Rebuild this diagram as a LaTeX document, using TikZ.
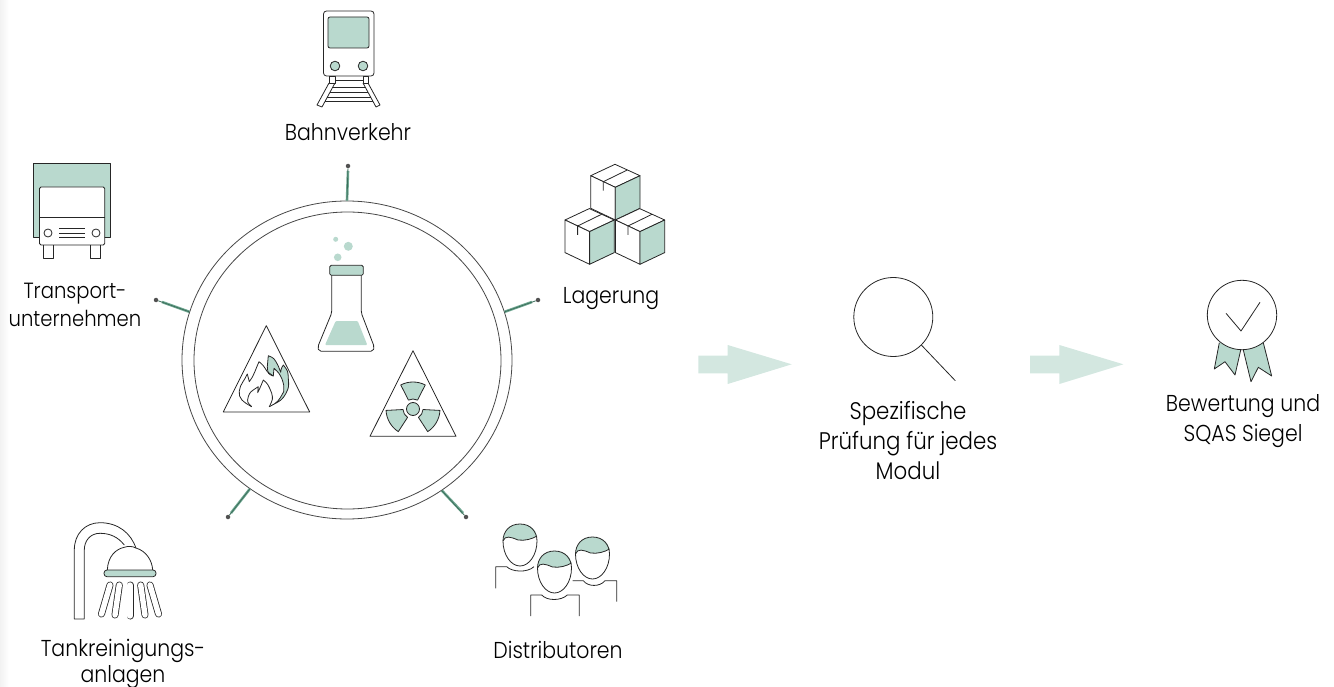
\documentclass[tikz,border=0pt]{standalone}
\usepackage{fontspec}
\setmainfont[FakeStretch=0.89]{Poppins Light}
\usepackage{xcolor}
\usetikzlibrary{shapes.geometric,positioning}
\definecolor{mint}{HTML}{B9D9CE}
\definecolor{arrowmint}{HTML}{D3E7E0}
\definecolor{spokegreen}{HTML}{6FA892}
\definecolor{spokedark}{HTML}{3C6E5B}
\definecolor{ink}{HTML}{262626}
\tikzset{
  icon/.style={draw=ink, line width=0.8pt, line join=round},
  iconfill/.style={icon, fill=mint},
  iconwhite/.style={icon, fill=white},
  labeltext/.style={font=\fontsize{23}{30}\selectfont, text=black, align=center, inner sep=0pt},
  ringline/.style={draw=ink!85, line width=0.8pt, shape=ellipse, inner sep=0pt},
  spokedot/.style={circle, fill=ink!80, inner sep=0pt, minimum size=4.5pt},
  spokewide/.style={draw=spokegreen, line width=2.6pt},
  spokethin/.style={draw=spokedark, line width=0.8pt},
  jetline/.style={draw=ink, line width=7pt, line cap=round},
  jetinner/.style={draw=white, line width=5.4pt, line cap=round},
  bigarrow/.style={fill=arrowmint, draw=none}
}
\begin{document}
\begin{tikzpicture}[x=1pt,y=-1pt]
  \useasboundingbox (0,0) rectangle (1334,687);
  \shade[left color=black!5, right color=white] (0,0) rectangle (9,687);

  % ring in the middle
  \node (ring_outer) at (347,360) [ringline, minimum width=330pt, minimum height=318pt]{};
  \node (ring_inner) at (347.5,360.5) [ringline, minimum width=307pt, minimum height=297pt]{};

  % spokes
  \node (dot_top) at (348,166) [spokedot]{};
  \node (dot_left) at (156,300) [spokedot]{};
  \node (dot_right) at (538,300) [spokedot]{};
  \node (dot_lowleft) at (228,517) [spokedot]{};
  \node (dot_lowright) at (466,517) [spokedot]{};
  \coordinate (stub_top) at (348,171);
  \coordinate (stub_left) at (162,302);
  \coordinate (stub_right) at (532,302);
  \coordinate (stub_lowleft) at (231,513);
  \coordinate (stub_lowright) at (463,513);
  \foreach \ang/\spoke in {90/top, 163/left, 17.2/right, 233.3/lowleft, 306.7/lowright}{
    \draw[spokewide] (ring_outer.\ang) -- (stub_\spoke);
    \draw[spokethin] (ring_outer.\ang) -- (dot_\spoke);
  }

  % flask
  \foreach \bx/\by/\br in {335.7/239.3/2.5, 348.3/246.3/4.5, 337.7/257.3/3.8}
    \fill[mint] (\bx,\by) circle (\br);
  \draw[icon, rounded corners=2pt] (331.7,275) -- (331.7,313) -- (317.7,347) -- (319,351.3) -- (373,351.3) -- (374.3,347) -- (361.3,313) -- (361.3,275);
  \fill[mint, rounded corners=1pt] (335.7,321) -- (357.7,321) -- (367.3,345) -- (325,345) -- cycle;
  \draw[iconfill, rounded corners=1.5pt] (329.7,265.3) rectangle (363.3,275.3);

  % fire sign
  \draw[icon] (266.3,325.7) -- (309.7,412) -- (223.3,412) -- cycle;
  \draw[iconfill] (268.3,355.7) .. controls (274,358) .. (278.3,366) -- (280.7,372.3) .. controls (281,369) .. (283.3,365) .. controls (288,371) .. (288.3,378.3) .. controls (289,387) .. (286,393.3) .. controls (282,400) .. (269.3,406.7) .. controls (278,402) .. (283.7,391.7) .. controls (284,385) .. (281.7,378.3) .. controls (279,373) .. (274,368.3) -- (273.3,376) .. controls (268,374) .. (267.3,366.7) -- cycle;
  \draw[icon] (251.7,406.7) .. controls (243,402) and (238,398) .. (239.3,391) .. controls (240,384) and (245,380) .. (247.3,374) -- (249.3,381.7) .. controls (254,376) and (256,368) .. (259,361.7) .. controls (263,365) .. (267.3,371.7) -- (273.3,376);
  \draw[icon] (251.7,406.7) .. controls (247,402) .. (248.3,396.7) .. controls (250,392) .. (258.3,386.7) -- (257.7,392.7) .. controls (260,388) .. (263.3,380) .. controls (268,384) .. (271.7,393.3) .. controls (273,399) .. (269.3,406.7);

  % radiation sign
  \draw[icon] (413,350.7) -- (456,436.3) -- (370,436.3) -- cycle;
  \begin{scope}[shift={(413,409)}]
    \foreach \a in {270,30,150}
      \draw[iconfill] (\a-27:27) arc[start angle=\a-27, end angle=\a+27, radius=27] -- (\a+27:10) arc[start angle=\a+27, end angle=\a-27, radius=10] -- cycle;
    \draw[iconfill] (0,0) circle (6.5);
  \end{scope}

  % train
  \draw[icon] (329,76) rectangle (335,83);
  \draw[icon] (363,76) rectangle (368,83);
  \draw[icon, line join=round] (329,83) -- (317,105) -- (322,107) -- (335,83);
  \draw[icon] (368,83) -- (380,105) -- (376,107) -- (363,83);
  \foreach \ty/\ta/\tb in {80/335/363, 87/332.5/365.5, 92/330/368, 97.5/327/371, 101/325/373}
    \draw[icon] (\ta,\ty) -- (\tb,\ty);
  \draw[iconwhite, rounded corners=3pt] (323.5,11) rectangle (374,76);
  \draw[iconfill, rounded corners=2pt] (328,17) rectangle (369,48);
  \draw[iconfill] (335,66) circle (4.8);
  \draw[iconfill] (363,66) circle (4.8);

  % truck
  \draw[iconfill] (33.3,237) -- (33.3,163) -- (110.7,163) -- (110.7,237) -- cycle;
  \draw[iconwhite, rounded corners=1.5pt] (39.5,187) rectangle (104.7,245);
  \draw[icon] (39.5,217) -- (104.7,217);
  \draw[icon] (48,233) circle (4);
  \draw[icon] (96,233) circle (4);
  \foreach \gy in {228,233,237}
    \draw[icon] (59,\gy) -- (85,\gy);
  \draw[icon] (43,245) -- (43,258) -- (53,258) -- (53,245);
  \draw[icon] (90,245) -- (90,258) -- (100.7,258) -- (100.7,245);

  % boxes
  \foreach \ox/\oy in {0/0, -25.7/44.3, 24.7/44.3}{
    \begin{scope}[shift={(\ox,\oy)}]
      \draw[iconwhite] (590.7,175.7) -- (615,164.3) -- (640,175.7) -- (615.3,187.3) -- cycle;
      \draw[iconwhite] (590.7,175.7) -- (615.3,187.3) -- (615.3,220) -- (590.7,208.3) -- cycle;
      \draw[iconfill] (615.3,187.3) -- (640,175.7) -- (640,208.3) -- (615.3,220) -- cycle;
      \draw[icon] (627.3,170) -- (603.3,181.7) -- (603.3,190.7);
    \end{scope}
  }

  % shower
  \draw[icon] (124.3,545) .. controls (118,537) and (110,533.3) .. (100,533.3) .. controls (90,533.3) and (84.3,541) .. (84.3,550) -- (84.3,619) -- (74.3,619) -- (74.3,550) .. controls (74.3,534) and (85,522.7) .. (100,522.7) .. controls (118,522.7) and (131,533) .. (136,548.3);
  \draw[icon] (107.3,570) .. controls (108,556) and (116,549) .. (124.3,547.3) .. controls (128,546) and (132,546) .. (136,548) .. controls (146,551) and (152,560) .. (152.7,570);
  \draw[iconfill, rounded corners=3pt] (104,570) rectangle (156,576.7);
  \foreach \ja/\jb/\jc/\jd in {110/585/101.5/614, 119.3/585/115/615, 130/585/130/616, 140.7/585/145/615, 150/585/158.5/614}{
    \draw[jetline] (\ja,\jb) -- (\jc,\jd);
    \draw[jetinner] (\ja,\jb) -- (\jc,\jd);
  }

  % people
  \foreach \hx/\hy in {520/545, 554.5/572, 592.5/558}{
    \begin{scope}[shift={(\hx,\hy)}]
      \fill[white] (0,-21) .. controls (-11,-21) and (-17,-13) .. (-17,-4) .. controls (-17,10) and (-9,21) .. (0,21) .. controls (9,21) and (17,10) .. (17,-4) .. controls (17,-13) and (11,-21) .. (0,-21);
      \fill[mint] (0,-21) .. controls (-11,-21) and (-17,-13) .. (-17,-4) .. controls (-15,-10) and (-9,-8) .. (-2,-5) .. controls (5,-4) and (12,-6) .. (17,-9) .. controls (16,-15) and (10,-21) .. (0,-21);
      \draw[icon] (0,-21) .. controls (-11,-21) and (-17,-13) .. (-17,-4) .. controls (-17,10) and (-9,21) .. (0,21) .. controls (9,21) and (17,10) .. (17,-4) .. controls (17,-13) and (11,-21) .. (0,-21);
      \draw[icon] (-17,-4) .. controls (-15,-10) and (-9,-8) .. (-2,-5) .. controls (5,-4) and (12,-6) .. (17,-9);
    \end{scope}
  }
  \draw[icon] (495.7,588.3) -- (495.7,566.7) -- (506.7,566.7) .. controls (512,572) and (527,573) .. (534,566.7);
  \draw[icon] (530.7,616) -- (530.7,595) -- (541.7,595) .. controls (547,601) and (561,601) .. (567.3,595) -- (579.3,595) -- (579.3,616);
  \draw[icon] (572.7,580.7) -- (583.3,580.7) .. controls (588,587) and (600,587) .. (605,580.7) -- (616.7,580.7) -- (616.7,601.7);

  % big arrows
  \fill[bigarrow] (698.3,355.7) -- (727.7,355.7) -- (727.7,345) -- (791.7,364.3) -- (727.7,384) -- (727.7,373.3) -- (698.3,373.3) -- cycle;
  \fill[bigarrow] (1030,355.7) -- (1059.4,355.7) -- (1059.4,345) -- (1123.4,364.3) -- (1059.4,384) -- (1059.4,373.3) -- (1030,373.3) -- cycle;

  % magnifier
  \node (lens) at (893.3,317) [circle, draw=ink, line width=0.8pt, minimum size=79pt, inner sep=0pt]{};
  \coordinate (handle_end) at (955.3,380.7);
  \draw[icon] (lens.south east) -- (handle_end);

  % medal
  \draw[iconfill] (1219.3,342.7) -- (1214.3,369) -- (1225,361.7) -- (1235,375) -- (1240.7,350);
  \draw[iconfill] (1243.3,350) -- (1251,381.7) -- (1258.3,367.3) -- (1271.7,376) -- (1263.3,342.7);
  \draw[iconwhite] (1242,315) circle (34.7);
  \draw[icon] (1226,313.3) -- (1241,331) -- (1260,302.3);

  % labels
  \node (lbl_bahn) at (348,132) [labeltext]{Bahnverkehr};
  \node (lbl_transport) at (75,305) [labeltext, font=\fontsize{22}{30}\selectfont]{Transport-\\[-2pt]unternehmen};
  \node (lbl_lager) at (611,298.5) [labeltext]{Lagerung};
  \node (lbl_tank) at (123,664) [labeltext]{Tankreinigungs-\\[-3.5pt]anlagen};
  \node (lbl_dist) at (558,650) [labeltext]{Distributoren};
  \node (lbl_spez) at (908,441) [labeltext, font=\fontsize{24}{30}\selectfont]{Spezifische\\Prüfung für jedes\\Modul};
  \node (lbl_siegel) at (1243,421) [labeltext]{Bewertung und\\SQAS Siegel};

\end{tikzpicture}
\end{document}
